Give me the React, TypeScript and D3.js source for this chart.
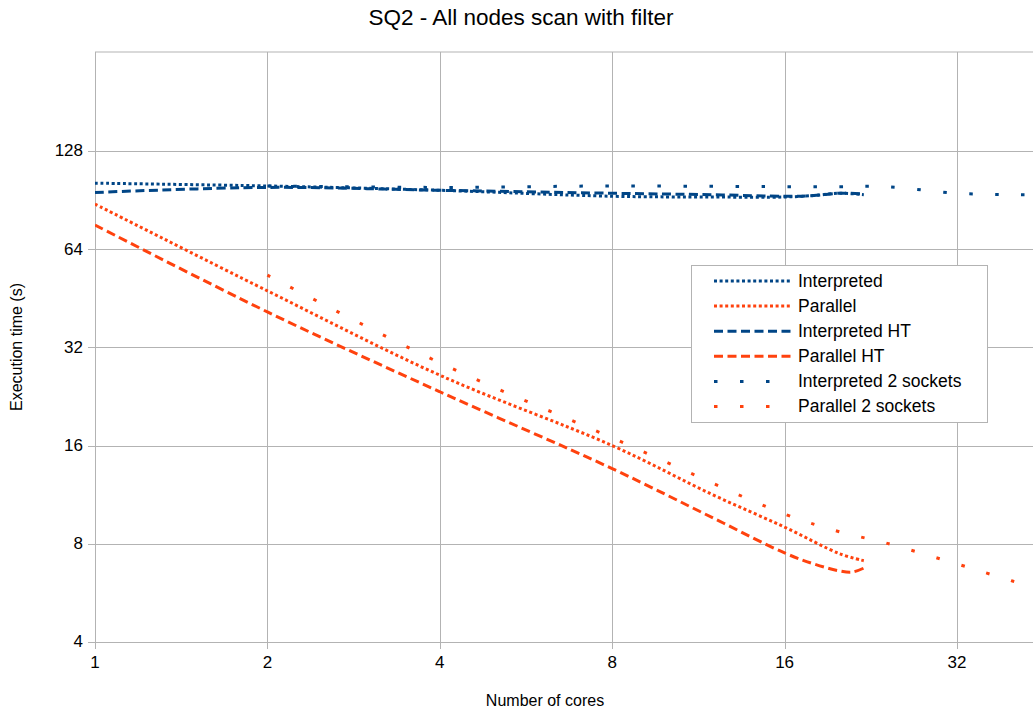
import React from 'react';
import * as d3 from 'd3';

// chart data
const coresSingle = [1, 2, 4, 8, 12, 16, 18, 20, 22];
const interpreted = [102, 100, 97, 93, 92.5, 92.5, 93.5, 95, 94];
const interpretedHT = [95.5, 99, 97, 95, 94, 93, 93.5, 95, 94.5];
const coresParallel = [1, 2, 4, 8, 12, 16, 20, 22];
const parallel = [88, 47.7, 26.3, 16, 11.3, 9.0, 7.45, 7.1];
const coresParallelHT = [1, 2, 4, 8, 12, 16, 18, 20, 21, 22];
const parallelHT = [75.9, 41.1, 23.4, 13.6, 9.6, 7.5, 6.94, 6.6, 6.55, 6.74];
const coresSockets = [2, 4, 8, 16, 20, 24, 32, 40, 48];
const interpreted2 = [100, 99, 100, 99.5, 99.5, 99.5, 95, 94, 94];
const parallel2 = [53.3, 28.7, 16.9, 9.87, 8.7, 8.05, 6.94, 6.15, 5.58];

const xTicks = [1, 2, 4, 8, 16, 32];
const yTicks = [4, 8, 16, 32, 64, 128];

const BLUE = '#004586';
const ORANGE = '#ff420e';
const GRID = '#b3b3b3';

const FINE_DOT = '3,2.6';
const DASH = '9,4.5';
const SPARSE = '3.5,22.5';

const series = [
  { name: 'Interpreted', x: coresSingle, y: interpreted, color: BLUE, dash: FINE_DOT },
  { name: 'Parallel', x: coresParallel, y: parallel, color: ORANGE, dash: FINE_DOT },
  { name: 'Interpreted HT', x: coresSingle, y: interpretedHT, color: BLUE, dash: DASH },
  { name: 'Parallel HT', x: coresParallelHT, y: parallelHT, color: ORANGE, dash: DASH },
  { name: 'Interpreted 2 sockets', x: coresSockets, y: interpreted2, color: BLUE, dash: SPARSE },
  { name: 'Parallel 2 sockets', x: coresSockets, y: parallel2, color: ORANGE, dash: SPARSE },
];

const W = 1033;
const H = 716;
const left = 95;
const right = 1033;
const top = 52;
const bottom = 642;

const font = '"Liberation Sans", Arial, sans-serif';

export default function App() {
  const x = d3.scaleLog().base(2).domain([1, 32]).range([left, 957]);
  const y = d3.scaleLog().base(2).domain([4, 128]).range([bottom, 151]);

  const line = d3.line<[number, number]>()
    .curve(d3.curveCatmullRom.alpha(0.5))
    .x(d => x(d[0]))
    .y(d => y(d[1]));

  const legendX = 691;
  const legendY = 265;
  const rowGap = 25.1;

  return (
    <svg width={W} height={H} style={{ position: 'absolute', left: 0, top: 0, background: '#fff' }}
      fontFamily={font}>
      <defs>
        <clipPath id="plot">
          <rect x={left} y={top} width={right - left} height={bottom - top} />
        </clipPath>
      </defs>

      {/* title */}
      <text x={521} y={19} textAnchor="middle" dominantBaseline="middle" fontSize={22.5} fill="#000">
        SQ2 - All nodes scan with filter
      </text>

      {/* grid */}
      <line x1={left} x2={right} y1={top} y2={top} stroke={GRID} strokeWidth={1} />
      {yTicks.map(t => (
        <g key={'y' + t}>
          <line x1={left - 7} x2={right} y1={Math.round(y(t)) + 0.5} y2={Math.round(y(t)) + 0.5} stroke={GRID} strokeWidth={1} />
          <text x={83} y={y(t) + 1} textAnchor="end" dominantBaseline="middle" fontSize={17} fill="#000">{t}</text>
        </g>
      ))}
      {xTicks.map(t => (
        <g key={'x' + t}>
          <line x1={Math.round(x(t)) + 0.5} x2={Math.round(x(t)) + 0.5} y1={top} y2={bottom + 7} stroke={GRID} strokeWidth={1} />
          <text x={x(t)} y={664} textAnchor="middle" dominantBaseline="middle" fontSize={17} fill="#000">{t}</text>
        </g>
      ))}

      {/* axis titles */}
      <text transform={`translate(18,${(top + bottom) / 2}) rotate(-90)`} textAnchor="middle" dominantBaseline="middle"
        fontSize={16} fill="#000">Execution time (s)</text>
      <text x={545} y={702} textAnchor="middle" dominantBaseline="middle" fontSize={16} fill="#000">Number of cores</text>

      {/* series */}
      <g clipPath="url(#plot)">
        {series.map(s => (
          <path key={s.name}
            d={line(s.x.map((v, i) => [v, s.y[i]] as [number, number])) || ''}
            fill="none" stroke={s.color} strokeWidth={3} strokeDasharray={s.dash} />
        ))}
      </g>

      {/* legend */}
      <rect x={legendX + 0.5} y={legendY + 0.5} width={296} height={157} fill="#fff" stroke={GRID} strokeWidth={1} />
      {series.map((s, i) => {
        const cy = legendY + 16 + i * rowGap;
        return (
          <g key={'lg' + s.name}>
            <line x1={legendX + 23} x2={legendX + 101} y1={cy} y2={cy} stroke={s.color} strokeWidth={3}
              strokeDasharray={s.dash} />
            <text x={legendX + 107} y={cy + 1} dominantBaseline="middle" fontSize={17.5} fill="#000">{s.name}</text>
          </g>
        );
      })}
    </svg>
  );
}
